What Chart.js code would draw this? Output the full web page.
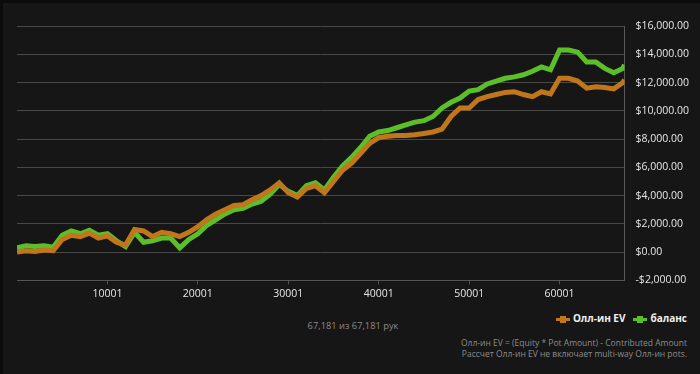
<!DOCTYPE html>
<html>
<head>
<meta charset="utf-8">
<script src="https://cdn.jsdelivr.net/npm/chart.js@4"></script>
<style>
    html, body { margin: 0; padding: 0; background: #0b0b0b; }
    #panel {
        position: absolute; left: 3px; top: 3px; width: 697px; height: 371px;
        background: #161616; overflow: hidden;
    }
    #wrap { position: absolute; left: -3px; top: -3px; width: 700px; height: 303px; }
    .txt { position: absolute; font-family: "Open Sans", sans-serif; color: #8c8c8c; }
    #hands { left: 0; width: 700px; top: 316px; text-align: center; font-size: 9.3px; }
    #legend { right: 13px; top: 308px; font-size: 10px; font-weight: bold; color: #f0f0f0; white-space: nowrap; }
    #legend .mk { display: inline-block; position: relative; width: 14px; height: 3px; vertical-align: middle; margin: 0 3px 0 8px; }
    #legend .mk i { position: absolute; left: 4px; top: -2px; width: 6px; height: 7px; background: inherit; }
    #note { right: 13px; top: 334px; font-size: 8.5px; line-height: 11px; text-align: right; white-space: nowrap; }
</style>
</head>
<body>
<div id="panel">
    <div id="wrap"><canvas id="chart" width="700" height="303"></canvas></div>
    <div class="txt" id="legend"><span class="mk" style="background:#c0761a"><i></i></span>Олл-ин EV<span class="mk" style="background:#5cbf2a"><i></i></span>баланс</div>
    <div class="txt" id="hands">67,181 из 67,181 рук</div>
    <div class="txt" id="note">Олл-ин EV = (Equity * Pot Amount) - Contributed Amount<br>Рассчет Олл-ин EV не включает multi-way Олл-ин pots.</div>
</div>
<script>
    const hands = [1, 1001, 2001, 3001, 4001, 5001, 6001, 7001, 8001, 9001,
        10001, 11001, 12001, 13001, 14001, 15001, 16001, 17001, 18001, 19001,
        20001, 21001, 22001, 23001, 24001, 25001, 26001, 27001, 28001, 29001,
        30001, 31001, 32001, 33001, 34001, 35001, 36001, 37001, 38001, 39001,
        40001, 41001, 42001, 43001, 44001, 45001, 46001, 47001, 48001, 49001,
        50001, 51001, 52001, 53001, 54001, 55001, 56001, 57001, 58001, 59001,
        60001, 61001, 62001, 63001, 64001, 65001, 66001, 67001, 67181];

    const allinEV = [0, 100, 50, 150, 100, 900, 1200, 1100, 1350, 1000,
        1150, 700, 500, 1600, 1500, 1100, 1400, 1300, 1100, 1400,
        1800, 2300, 2700, 3000, 3300, 3350, 3700, 4000, 4400, 4900,
        4200, 3900, 4500, 4700, 4200, 5000, 5800, 6300, 7000, 7700,
        8100, 8200, 8250, 8250, 8300, 8400, 8500, 8700, 9600, 10200,
        10200, 10800, 11000, 11150, 11300, 11350, 11150, 11000, 11350, 11200,
        12300, 12300, 12100, 11600, 11700, 11650, 11550, 12000, 12200];

    const balance = [300, 450, 400, 450, 350, 1200, 1500, 1300, 1550, 1200,
        1300, 800, 400, 1400, 700, 800, 1000, 1000, 300, 900,
        1300, 1900, 2300, 2700, 3000, 3100, 3400, 3600, 4100, 4800,
        4300, 4000, 4700, 4900, 4400, 5300, 6100, 6700, 7400, 8200,
        8500, 8600, 8800, 9000, 9200, 9300, 9600, 10200, 10600, 10900,
        11400, 11500, 11900, 12100, 12300, 12400, 12550, 12800, 13100, 12900,
        14300, 14300, 14150, 13450, 13450, 13000, 12700, 13000, 13250];

    const xTicks = [10001, 20001, 30001, 40001, 50001, 60001];

    const money = v => (v < 0 ? '-$' : '$') + Math.abs(v).toLocaleString('en-US', { minimumFractionDigits: 2, maximumFractionDigits: 2 });

    const ctx = document.getElementById('chart').getContext('2d');
    const chart = new Chart(ctx, {
        type: 'line',
        data: {
            datasets: [{
                label: 'Олл-ин EV',
                data: hands.map((h, i) => ({ x: h, y: allinEV[i] })),
                borderColor: '#c0761a',
                borderWidth: 5,
                pointRadius: 0,
                tension: 0
            }, {
                label: 'баланс',
                data: hands.map((h, i) => ({ x: h, y: balance[i] })),
                borderColor: '#5cbf2a',
                borderWidth: 5,
                pointRadius: 0,
                tension: 0
            }]
        },
        options: {
            responsive: false,
            animation: false,
            layout: { padding: { left: 17, right: 0, top: 26, bottom: 0 } },
            plugins: {
                legend: { display: false },
                tooltip: { enabled: false }
            },
            scales: {
                x: {
                    type: 'linear',
                    min: 1,
                    max: 67181,
                    afterBuildTicks: axis => { axis.ticks = xTicks.map(v => ({ value: v })); },
                    grid: { drawOnChartArea: false, color: '#555', tickLength: 4 },
                    border: { color: '#555' },
                    ticks: {
                        color: '#e6e6e6',
                        font: { family: 'Open Sans', size: 10.5 },
                        padding: 3,
                        maxRotation: 0,
                        callback: v => String(v)
                    }
                },
                y: {
                    position: 'right',
                    min: -2000,
                    max: 16000,
                    grid: { color: '#484848', drawTicks: false },
                    border: { color: '#585858' },
                    ticks: {
                        stepSize: 2000,
                        color: '#e6e6e6',
                        font: { family: 'Open Sans', size: 10.5 },
                        padding: 11,
                        callback: v => money(v)
                    }
                }
            }
        }
    });
</script>
</body>
</html>
